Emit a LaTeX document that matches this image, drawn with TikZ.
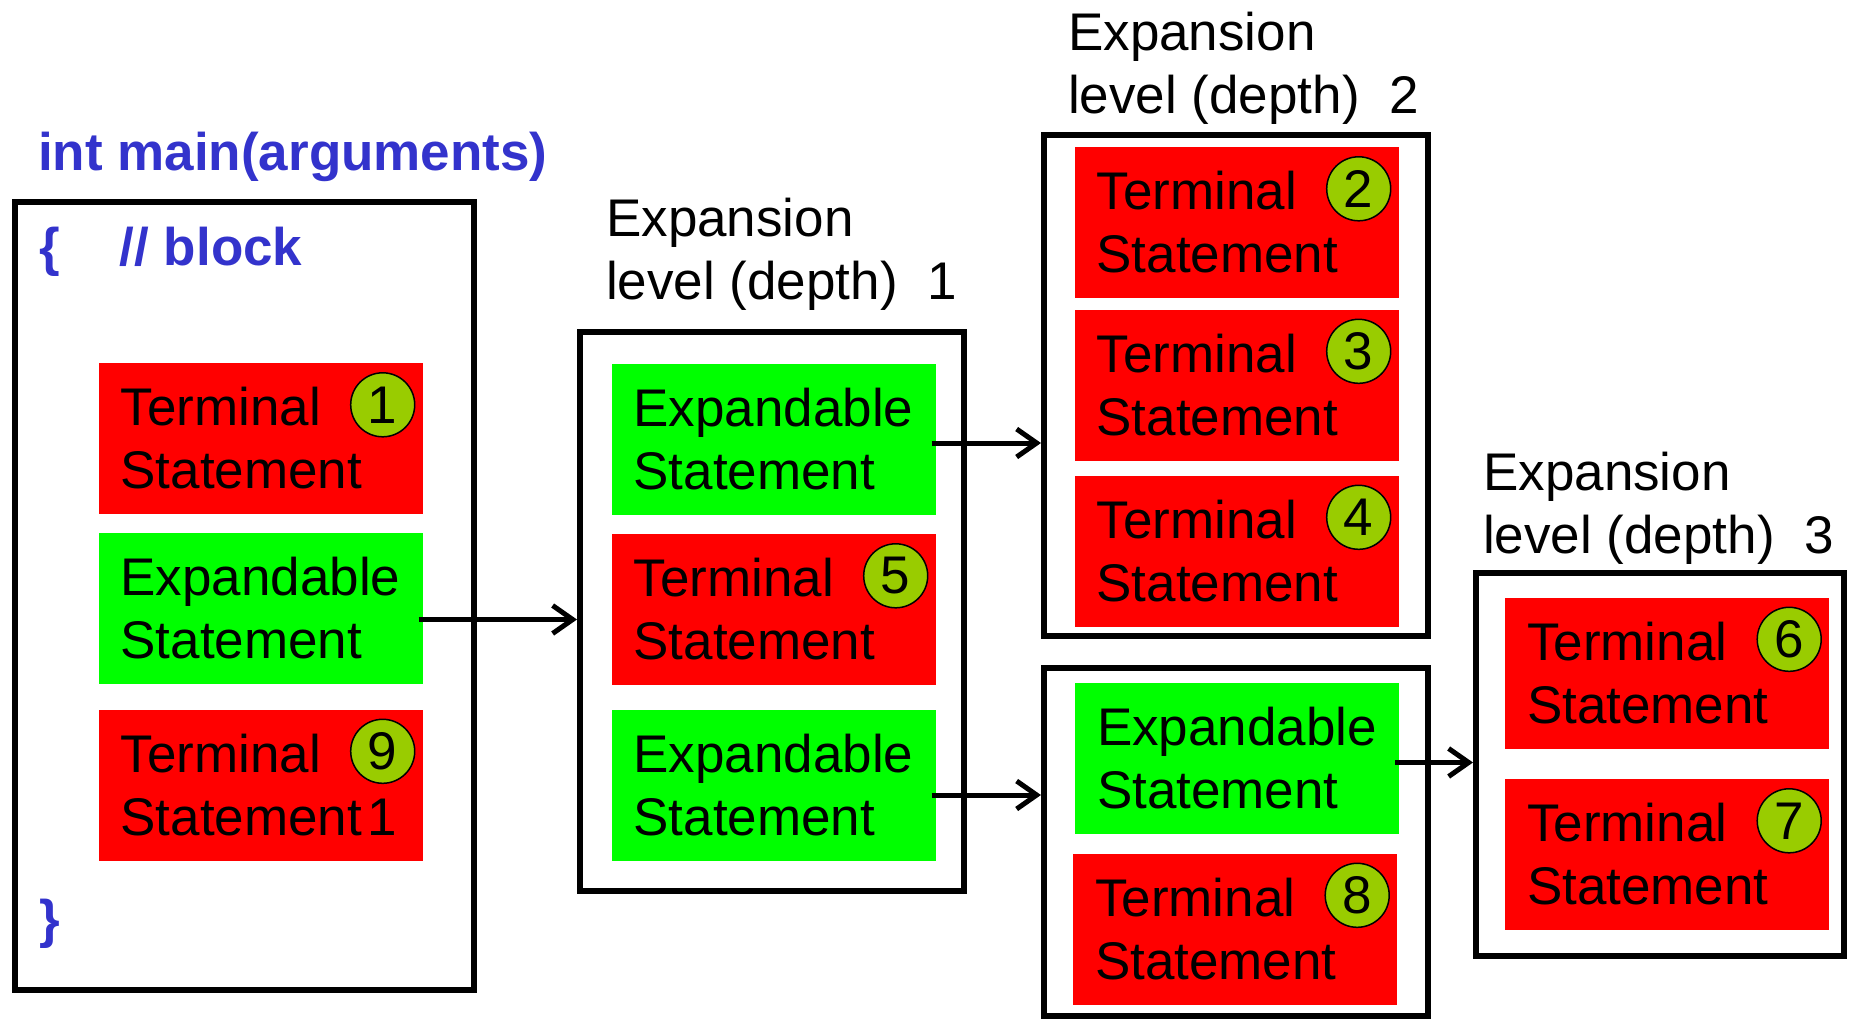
\documentclass[tikz,border=0pt]{standalone}
\usepackage{fontspec}
\setmainfont{Liberation Sans}
\usetikzlibrary{arrows.meta,calc}
\definecolor{tred}{HTML}{FF0000}
\definecolor{tgreen}{HTML}{00FF00}
\definecolor{badgegreen}{HTML}{99CC00}
\definecolor{codeblue}{HTML}{3333CC}
\newcommand{\bigtext}{\fontsize{53}{63}\selectfont}

\begin{document}
\begin{tikzpicture}[x=1pt,y=-1pt,
  outerbox/.style={draw=black, line width=6pt, inner sep=0pt},
  stmt/.style={minimum width=324pt, minimum height=151pt, inner xsep=22pt,
    inner ysep=0pt, text width=280pt, align=left, font=\bigtext, text=black},
  term/.style={stmt, fill=tred},
  expd/.style={stmt, fill=tgreen},
  numball/.style={circle, draw=black, line width=1.5pt, fill=badgegreen,
    minimum size=64pt, inner sep=0pt, font=\bigtext},
  heading/.style={anchor=north west, inner sep=0pt, align=left, font=\bigtext},
  codetext/.style={anchor=base west, inner sep=0pt, font=\bigtext\bfseries, text=codeblue},
  arr/.style={line width=5pt, -{Straight Barb[length=20pt,width=28pt]}}
]
\useasboundingbox (0,0) rectangle (1850,1020);

% nesting frames
\node[outerbox, minimum width=459pt, minimum height=788pt] (L0) at (244.5,596) {};
\node[outerbox, minimum width=384pt, minimum height=559pt] (L1) at (772,611.5) {};
\node[outerbox, minimum width=384pt, minimum height=501pt] (L2a) at (1236,385.5) {};
\node[outerbox, minimum width=384pt, minimum height=348pt] (L2b) at (1236,842) {};
\node[outerbox, minimum width=368pt, minimum height=383pt] (L3) at (1660,764.5) {};

% code text of the main block
\node[codetext] (title) at (38,170) {int main(arguments)};
\node[codetext] (open) at (39,265) {\{\hspace{60pt}// block};
\node[codetext] (close) at (39,937) {\}};

% level headings
\node[heading] (h1) at (606,198) {Expansion\\level (depth)~~1};
\node[heading] (h2) at (1068,12) {Expansion\\level (depth)~~2};
\node[heading] (h3) at (1483,452) {Expansion\\level (depth)~~3};

% statements, level 0
\node[term] (t1) at (260.5,438.5) {Terminal\\Statement};
\node[expd] (e0) at (260.5,608.5) {Expandable\\Statement};
\node[term] (t9) at (260.5,785) {Terminal\\Statement\kern5pt1};

% level 1
\node[expd] (eA) at (773.5,439) {Expandable\\Statement};
\node[term] (t5) at (773.5,609.5) {Terminal\\Statement};
\node[expd] (eB) at (773.5,785) {Expandable\\Statement};

% level 2
\node[term] (t2) at (1236.5,222.5) {Terminal\\Statement};
\node[term] (t3) at (1236.5,385) {Terminal\\Statement};
\node[term] (t4) at (1236.5,551) {Terminal\\Statement};
\node[expd] (eC) at (1237,758.5) {Expandable\\Statement};
\node[term] (t8) at (1235,929) {Terminal\\Statement};

% level 3
\node[term] (t6) at (1667,673) {Terminal\\Statement};
\node[term] (t7) at (1667,854.5) {Terminal\\Statement};

% execution order badges
\foreach \s/\n in {t1/1,t2/2,t3/3,t4/4,t5/5,t6/6,t7/7,t8/8,t9/9}
  \node[numball] (n\n) at ($(\s.north east)+(-40,42)$) {\n};

% expansion arrows
\coordinate (a0) at ([xshift=-4pt,yshift=-11pt]e0.east);
\coordinate (aA) at ([xshift=-4pt,yshift=-4pt]eA.east);
\coordinate (aB) at ([xshift=-4pt,yshift=-10pt]eB.east);
\coordinate (aC) at ([xshift=-4pt,yshift=-4pt]eC.east);
\draw[arr] (a0) -- (a0 -| L1.west);
\draw[arr] (aA) -- (aA -| L2a.west);
\draw[arr] (aB) -- (aB -| L2b.west);
\draw[arr] (aC) -- (aC -| L3.west);
\end{tikzpicture}
\end{document}
